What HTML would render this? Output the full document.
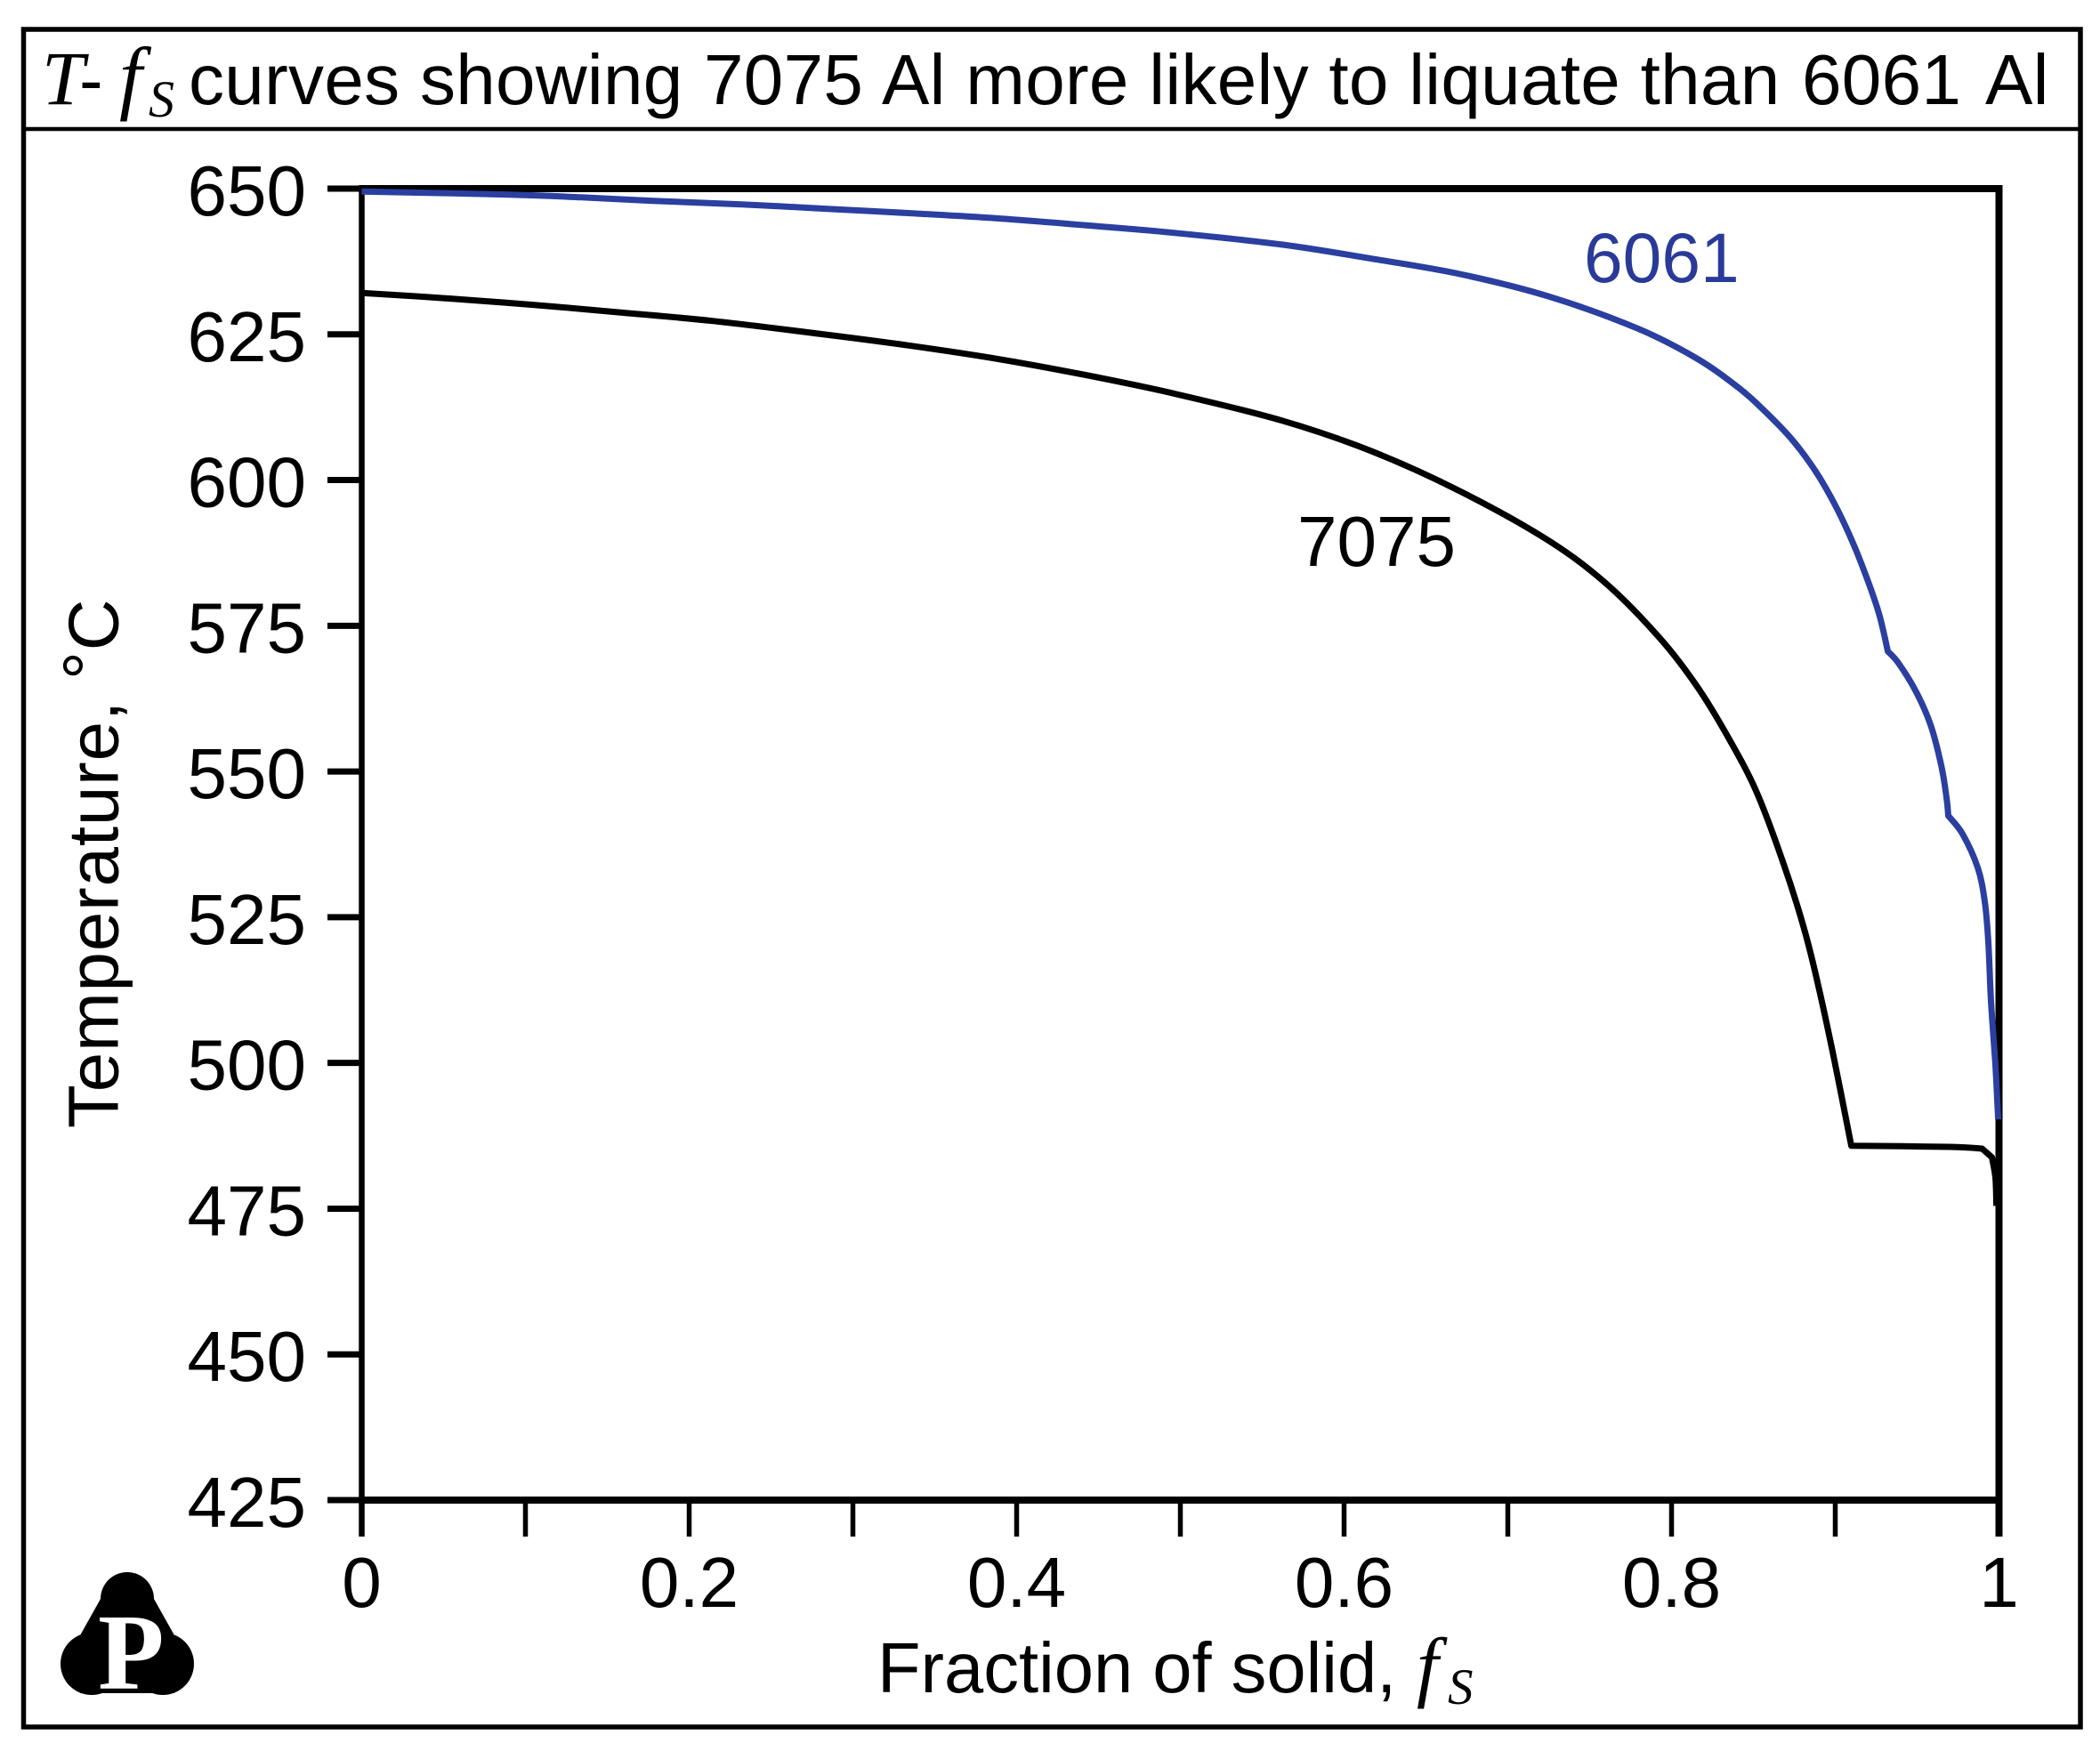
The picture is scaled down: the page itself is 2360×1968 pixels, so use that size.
<!DOCTYPE html>
<html lang="en">
<head>
<meta charset="utf-8">
<title>T-fS curves for 7075 Al and 6061 Al</title>
<style>
  html, body { margin: 0; padding: 0; background: #fff; }
  body { width: 2360px; height: 1968px; overflow: hidden; }
  svg { display: block; }
  text { font-family: "Liberation Sans", sans-serif; fill: #000; }
  .serif { font-family: "Liberation Serif", serif; font-style: italic; }
</style>
</head>
<body>
<svg id="chart" width="2360" height="1968" viewBox="0 0 2360 1968" xmlns="http://www.w3.org/2000/svg">
  <rect x="26.5" y="33" width="2311.5" height="1908" fill="#fff" stroke="#000" stroke-width="5.5"/>
  <line x1="26" y1="145" x2="2338" y2="145" stroke="#000" stroke-width="4.5"/>

  <g>
    <text class="serif" x="47" y="117" font-size="86">T</text>
    <text x="89" y="117" font-size="80">-</text>
    <text class="serif" x="134" y="117" font-size="92">f</text>
    <text class="serif" x="167" y="131" font-size="58">S</text>
    <text y="117" font-size="80" letter-spacing="0.3"><tspan x="212">curves showing</tspan><tspan x="791">7075</tspan><tspan x="991">Al more likely to liquate than</tspan><tspan x="2025">6061</tspan><tspan x="2231">Al</tspan></text>
  </g>

  <g id="plot"></g>

  <text transform="translate(132.5,1268) rotate(-90)" x="0" y="0" font-size="80" letter-spacing="0.8">Temperature, <tspan dy="-6">°</tspan><tspan dy="6">C</tspan></text>

  <g>
    <text x="986" y="1902" font-size="79.5">Fraction of solid,</text>
    <text class="serif" x="1592" y="1902" font-size="88">f</text>
    <text class="serif" x="1627" y="1915" font-size="57">S</text>
  </g>

  <text x="1780" y="317" font-size="78.5" style="fill:#2a3a98">6061</text>
  <text x="1458" y="636" font-size="80">7075</text>

  <g>
    <circle cx="143" cy="1797" r="30" fill="#000"/>
    <circle cx="103" cy="1870" r="35" fill="#000"/>
    <circle cx="183" cy="1870" r="35" fill="#000"/>
    <polygon points="113,1797 173,1797 201,1847 196,1903 90,1903 85,1847" fill="#000"/>
    <text x="110" y="1898" font-size="122" font-weight="bold" style="font-family:'Liberation Serif',serif;fill:#fff">P</text>
  </g>
</svg>

<script>
const xTickValues = [0, 0.1, 0.2, 0.3, 0.4, 0.5, 0.6, 0.7, 0.8, 0.9, 1];
const xTickLabels = ["0", "", "0.2", "", "0.4", "", "0.6", "", "0.8", "", "1"];
const yTickValues = [650, 625, 600, 575, 550, 525, 500, 475, 450, 425];
const yTickLabels = ["650", "625", "600", "575", "550", "525", "500", "475", "450", "425"];

const fraction6061 = [0, 0.0875, 0.1342, 0.1777, 0.2321, 0.2793, 0.3337, 0.388, 0.4424, 0.4967, 0.562, 0.6163, 0.6707, 0.725, 0.7793, 0.8158, 0.8418, 0.857, 0.8734, 0.888, 0.9005, 0.9114, 0.9207, 0.9272, 0.9321, 0.9386, 0.9495, 0.9582, 0.9647, 0.968, 0.969, 0.9777, 0.987, 0.9913, 0.9935, 0.9951, 0.9978, 0.9995];
const temperature6061 = [649.5, 649.0, 648.5, 647.9, 647.3, 646.6, 645.8, 644.9, 643.7, 642.4, 640.4, 638.0, 635.35, 631.5, 626.0, 620.8, 615.65, 611.8, 607.0, 601.5, 595.4, 588.8, 582.1, 576.6, 570.6, 568.6, 563.6, 558.0, 551.1, 545.4, 542.4, 539.3, 533.5, 527.7, 520.7, 510.6, 499.6, 490.3];

const fraction7075 = [0, 0.0511, 0.1054, 0.1598, 0.2141, 0.2793, 0.3337, 0.388, 0.4424, 0.4967, 0.562, 0.6163, 0.6707, 0.725, 0.7614, 0.794, 0.8158, 0.8337, 0.8516, 0.8679, 0.881, 0.8897, 0.8989, 0.9098, 0.9696, 0.9897, 0.9957, 0.9978, 0.9984];
const temperature7075 = [632.1, 631.2, 630.05, 628.7, 627.3, 625.1, 623.1, 620.8, 618.0, 614.8, 610.2, 605.0, 598.1, 589.6, 581.9, 572.5, 564.5, 556.3, 546.7, 534.6, 523.0, 513.2, 501.2, 485.8, 485.6, 485.3, 483.8, 480.3, 475.5];

const plotLeft = 406.5;
const plotRight = 2246.5;
const plotTop = 212;
const plotBottom = 1686;
const xMin = 0;
const xMax = 1;
const yMin = 425;
const yMax = 650;

function xScale(v) {
  return plotLeft + (v - xMin) / (xMax - xMin) * (plotRight - plotLeft);
}
function yScale(v) {
  return plotTop + (yMax - v) / (yMax - yMin) * (plotBottom - plotTop);
}

const SVG_NS = "http://www.w3.org/2000/svg";
const plot = document.getElementById("plot");

function makeLine(x1, y1, x2, y2, width) {
  const el = document.createElementNS(SVG_NS, "line");
  el.setAttribute("x1", x1);
  el.setAttribute("y1", y1);
  el.setAttribute("x2", x2);
  el.setAttribute("y2", y2);
  el.setAttribute("stroke", "#000");
  el.setAttribute("stroke-width", width);
  plot.appendChild(el);
  return el;
}

function makeText(x, y, anchor, content) {
  const el = document.createElementNS(SVG_NS, "text");
  el.setAttribute("x", x);
  el.setAttribute("y", y);
  el.setAttribute("text-anchor", anchor);
  el.setAttribute("font-size", "80");
  el.textContent = content;
  plot.appendChild(el);
  return el;
}

/* Smooth path through the data, keeping sharp corners where the curve really kinks. */
function isCorner(p, i) {
  if (i === 0 || i === p.length - 1) return true;
  const a = Math.atan2(p[i][1] - p[i - 1][1], p[i][0] - p[i - 1][0]);
  const b = Math.atan2(p[i + 1][1] - p[i][1], p[i + 1][0] - p[i][0]);
  return Math.abs(a - b) > 0.44;
}

function curvePath(xs, ys) {
  const p = xs.map(function (v, i) {
    return [xScale(v), yScale(ys[i])];
  });
  let d = "M" + p[0][0].toFixed(1) + " " + p[0][1].toFixed(1);
  for (let i = 0; i < p.length - 1; i++) {
    const p0 = isCorner(p, i) ? p[i] : p[i - 1];
    const p3 = isCorner(p, i + 1) ? p[i + 1] : p[i + 2];
    const c1x = p[i][0] + (p[i + 1][0] - p0[0]) / 6;
    const c1y = p[i][1] + (p[i + 1][1] - p0[1]) / 6;
    const c2x = p[i + 1][0] - (p3[0] - p[i][0]) / 6;
    const c2y = p[i + 1][1] - (p3[1] - p[i][1]) / 6;
    d += " C" + c1x.toFixed(1) + " " + c1y.toFixed(1) + " " + c2x.toFixed(1) + " " + c2y.toFixed(1) + " " + p[i + 1][0].toFixed(1) + " " + p[i + 1][1].toFixed(1);
  }
  return d;
}

function makeCurve(xs, ys, colour) {
  const el = document.createElementNS(SVG_NS, "path");
  el.setAttribute("d", curvePath(xs, ys));
  el.setAttribute("fill", "none");
  el.setAttribute("stroke", colour);
  el.setAttribute("stroke-width", "7");
  el.setAttribute("stroke-linejoin", "round");
  plot.appendChild(el);
  return el;
}

const axisLeft = makeLine(plotLeft, plotTop - 4, plotLeft, plotBottom + 41, 6.5);



const axisBottom = makeLine(plotLeft - 3, plotBottom, plotRight + 4, plotBottom, 8);



const axisTop = makeLine(plotLeft, plotTop, plotRight + 4, plotTop, 8);



const axisRight = makeLine(plotRight, plotTop - 4, plotRight, plotBottom + 41, 8);



yTickValues.forEach(function (v, i) {
  const tick = makeLine(368, yScale(v), plotLeft, yScale(v), 7);
  
  
  const label = makeText(344, yScale(v) + 30, "end", yTickLabels[i]);
  
  
});

xTickValues.forEach(function (v, i) {
  const tick = makeLine(xScale(v), plotBottom, xScale(v), plotBottom + 41, 5.5);
  
  
  if (xTickLabels[i] !== "") {
    const label = makeText(xScale(v), 1806, "middle", xTickLabels[i]);
    
    
  }
});

const curve7075 = makeCurve(fraction7075, temperature7075, "#000");



const curve6061 = makeCurve(fraction6061, temperature6061, "#2a3f9f");


</script>
</body>
</html>
